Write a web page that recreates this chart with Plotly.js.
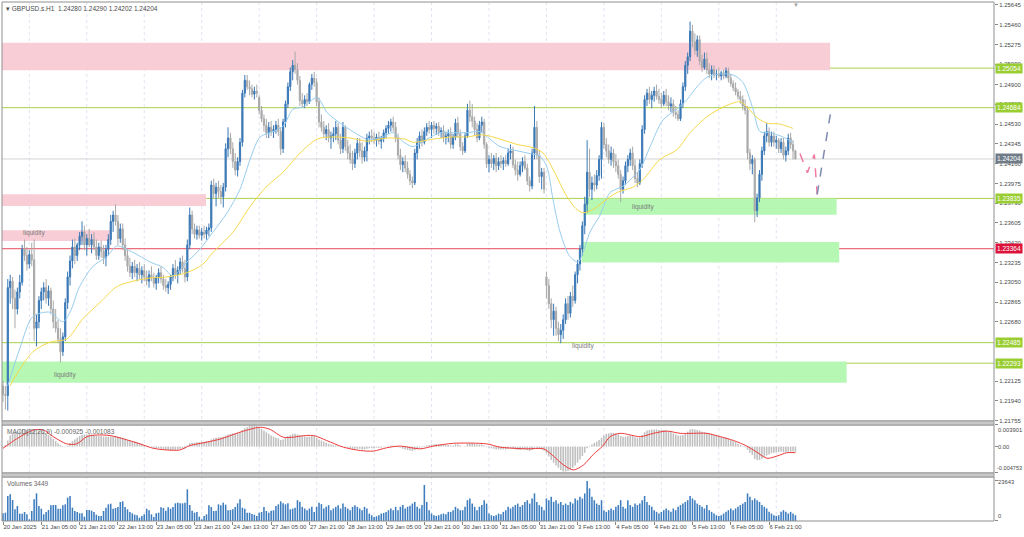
<!DOCTYPE html>
<html><head><meta charset="utf-8">
<script src="https://cdn.plot.ly/plotly-3.0.1.min.js"></script>
<style>html,body{margin:0;padding:0;background:#fff;}#chart{width:1024px;height:537px;}</style>
</head><body><div id="chart"></div>
<script>
// ---------- DATA ----------
const symbolTitle = "GBPUSD.s.H1";
const lastQuote = "1.24280 1.24290 1.24202 1.24204";
const macdTitle = "MACD(12,26,9) -0.000925 -0.001083";
const volumeTitle = "Volumes 3449";

const barOpen = [
1.2208,1.2200,1.2199,1.2300,1.2306,1.2290,1.2280,1.2296,1.2305,1.2336,
1.2330,1.2322,1.2331,1.2326,1.2262,1.2268,1.2288,1.2296,1.2300,1.2290,
1.2297,1.2280,1.2268,1.2262,1.2252,1.2240,1.2254,1.2286,1.2310,1.2325,
1.2338,1.2330,1.2340,1.2348,1.2352,1.2340,1.2346,1.2340,1.2345,1.2338,
1.2330,1.2338,1.2334,1.2328,1.2336,1.2345,1.2362,1.2368,1.2362,1.2346,
1.2355,1.2340,1.2330,1.2320,1.2314,1.2320,1.2314,1.2318,1.2312,1.2316,
1.2310,1.2306,1.2312,1.2309,1.2304,1.2310,1.2314,1.2308,1.2302,1.2300,
1.2303,1.2310,1.2318,1.2312,1.2316,1.2324,1.2318,1.2310,1.2340,1.2368,
1.2355,1.2350,1.2354,1.2349,1.2352,1.2350,1.2354,1.2356,1.2396,1.2388,
1.2394,1.2390,1.2385,1.2394,1.2430,1.2440,1.2430,1.2418,1.2410,1.2418,
1.2436,1.2482,1.2494,1.2488,1.2486,1.2481,1.2484,1.2478,1.2466,1.2458,
1.2452,1.2445,1.2450,1.2446,1.2448,1.2452,1.2446,1.2430,1.2455,1.2472,
1.2488,1.2502,1.2508,1.2504,1.2494,1.2475,1.2472,1.2476,1.2474,1.2490,
1.2496,1.2492,1.2474,1.2455,1.2450,1.2444,1.2448,1.2440,1.2442,1.2444,
1.2450,1.2438,1.2430,1.2450,1.2432,1.2426,1.2420,1.2416,1.2426,1.2435,
1.2428,1.2422,1.2428,1.2440,1.2442,1.2440,1.2438,1.2441,1.2437,1.2440,
1.2445,1.2449,1.2452,1.2455,1.2450,1.2440,1.2424,1.2415,1.2418,1.2412,
1.2406,1.2400,1.2398,1.2426,1.2436,1.2442,1.2436,1.2446,1.2450,1.2448,
1.2452,1.2449,1.2451,1.2445,1.2447,1.2440,1.2442,1.2444,1.2434,1.2441,
1.2454,1.2444,1.2432,1.2428,1.2442,1.2466,1.2460,1.2456,1.2448,1.2440,
1.2452,1.2455,1.2434,1.2416,1.2420,1.2416,1.2421,1.2414,1.2418,1.2416,
1.2419,1.2416,1.2426,1.2428,1.2415,1.2410,1.2406,1.2414,1.2418,1.2412,
1.2400,1.2395,1.2426,1.2450,1.2424,1.2404,1.2408,1.2310,1.2302,1.2285,
1.2270,1.2278,1.2262,1.2256,1.2260,1.2270,1.2285,1.2276,1.2292,1.2288,
1.2312,1.2322,1.2336,1.2358,1.2378,1.2408,1.2392,1.2398,1.2396,1.2405,
1.2420,1.2450,1.2434,1.2428,1.2420,1.2426,1.2418,1.2414,1.2406,1.2392,
1.2400,1.2414,1.2420,1.2426,1.2414,1.2402,1.2398,1.2416,1.2448,1.2476,
1.2482,1.2476,1.2480,1.2484,1.2479,1.2476,1.2472,1.2480,1.2474,1.2470,
1.2472,1.2464,1.2462,1.2458,1.2472,1.2488,1.2508,1.2516,1.2540,1.2530,
1.2522,1.2532,1.2512,1.2506,1.2514,1.2504,1.2500,1.2504,1.2499,1.2500,
1.2498,1.2501,1.2498,1.2503,1.2496,1.2491,1.2487,1.2483,1.2479,1.2476,
1.2470,1.2466,1.2426,1.2416,1.2420,1.2372,1.2384,1.2406,1.2428,1.2442,
1.2446,1.2436,1.2442,1.2436,1.2438,1.2430,1.2436,1.2424,1.2428,1.2440,1.2434,1.24280];

const barHigh = [
1.2213,1.2208,1.2308,1.2312,1.2310,1.2298,1.2300,1.2312,1.2340,1.2345,
1.2338,1.2335,1.2342,1.2345,1.2275,1.2292,1.2300,1.2305,1.2308,1.2302,
1.2300,1.2288,1.2280,1.2270,1.2262,1.2258,1.2290,1.2315,1.2330,1.2345,
1.2346,1.2342,1.2352,1.2362,1.2358,1.2350,1.2355,1.2350,1.2352,1.2345,
1.2342,1.2344,1.2340,1.2340,1.2350,1.2368,1.2372,1.2378,1.2368,1.2360,
1.2360,1.2346,1.2336,1.2328,1.2324,1.2326,1.2322,1.2324,1.2320,1.2322,
1.2316,1.2316,1.2320,1.2314,1.2312,1.2318,1.2320,1.2312,1.2308,1.2306,
1.2312,1.2322,1.2326,1.2320,1.2328,1.2330,1.2326,1.2345,1.2375,1.2372,
1.2360,1.2358,1.2358,1.2356,1.2358,1.2357,1.2360,1.2400,1.2402,1.2398,
1.2400,1.2396,1.2398,1.2435,1.2450,1.2445,1.2436,1.2426,1.2422,1.2440,
1.2485,1.2499,1.2499,1.2494,1.2490,1.2488,1.2490,1.2480,1.2470,1.2462,
1.2458,1.2455,1.2456,1.2452,1.2456,1.2458,1.2450,1.2458,1.2475,1.2492,
1.2506,1.2513,1.2521,1.2510,1.2498,1.2482,1.2480,1.2482,1.2492,1.2500,
1.2502,1.2496,1.2478,1.2462,1.2456,1.2452,1.2454,1.2446,1.2450,1.2456,
1.2454,1.2444,1.2455,1.2452,1.2438,1.2434,1.2428,1.2430,1.2440,1.2440,
1.2436,1.2432,1.2444,1.2446,1.2448,1.2446,1.2444,1.2446,1.2442,1.2448,
1.2452,1.2456,1.2458,1.2460,1.2455,1.2444,1.2430,1.2422,1.2424,1.2418,
1.2410,1.2404,1.2430,1.2440,1.2446,1.2448,1.2450,1.2454,1.2456,1.2455,
1.2456,1.2454,1.2455,1.2450,1.2452,1.2446,1.2448,1.2450,1.2444,1.2458,
1.2460,1.2448,1.2436,1.2445,1.2472,1.2475,1.2472,1.2460,1.2454,1.2456,
1.2460,1.2458,1.2436,1.2424,1.2426,1.2424,1.2426,1.2422,1.2424,1.2422,
1.2424,1.2430,1.2434,1.2432,1.2420,1.2418,1.2418,1.2422,1.2424,1.2416,
1.2404,1.2430,1.2470,1.2456,1.2428,1.2412,1.2412,1.2315,1.2308,1.2290,
1.2285,1.2282,1.2268,1.2266,1.2275,1.2290,1.2292,1.2296,1.2302,1.2315,
1.2326,1.2340,1.2362,1.2385,1.2438,1.2430,1.2404,1.2406,1.2410,1.2424,
1.2455,1.2454,1.2440,1.2434,1.2432,1.2430,1.2425,1.2420,1.2410,1.2404,
1.2418,1.2424,1.2430,1.2432,1.2420,1.2408,1.2420,1.2452,1.2480,1.2486,
1.2488,1.2484,1.2488,1.2490,1.2486,1.2482,1.2484,1.2486,1.2480,1.2478,
1.2476,1.2470,1.2466,1.2476,1.2492,1.2512,1.2520,1.2549,1.2546,1.2538,
1.2536,1.2536,1.2518,1.2520,1.2520,1.2510,1.2508,1.2508,1.2504,1.2506,
1.2503,1.2504,1.2506,1.2506,1.2500,1.2494,1.2492,1.2486,1.2484,1.2480,
1.2476,1.2470,1.2430,1.2424,1.2422,1.2388,1.2410,1.2432,1.2446,1.2454,
1.2450,1.2446,1.2446,1.2442,1.2440,1.2440,1.2440,1.2432,1.2444,1.2445,1.2438,1.24290];

const barLow = [
1.2193,1.2186,1.2185,1.2285,1.2280,1.2262,1.2275,1.2290,1.2302,1.2325,
1.2316,1.2318,1.2320,1.2250,1.2245,1.2262,1.2280,1.2288,1.2285,1.2283,
1.2275,1.2262,1.2258,1.2248,1.2230,1.2236,1.2250,1.2280,1.2302,1.2318,
1.2322,1.2325,1.2335,1.2340,1.2335,1.2330,1.2338,1.2332,1.2335,1.2326,
1.2326,1.2328,1.2322,1.2320,1.2330,1.2340,1.2352,1.2358,1.2340,1.2342,
1.2335,1.2325,1.2315,1.2310,1.2308,1.2310,1.2306,1.2308,1.2304,1.2306,
1.2302,1.2300,1.2306,1.2300,1.2298,1.2304,1.2304,1.2298,1.2296,1.2294,
1.2298,1.2306,1.2308,1.2304,1.2312,1.2314,1.2305,1.2306,1.2336,1.2350,
1.2346,1.2345,1.2346,1.2344,1.2346,1.2345,1.2348,1.2352,1.2384,1.2376,
1.2384,1.2378,1.2375,1.2390,1.2422,1.2425,1.2412,1.2405,1.2404,1.2414,
1.2432,1.2478,1.2485,1.2480,1.2478,1.2476,1.2478,1.2462,1.2455,1.2446,
1.2440,1.2440,1.2442,1.2440,1.2444,1.2442,1.2424,1.2426,1.2450,1.2468,
1.2484,1.2494,1.2500,1.2490,1.2470,1.2468,1.2468,1.2470,1.2472,1.2485,
1.2488,1.2470,1.2450,1.2446,1.2440,1.2438,1.2436,1.2430,1.2436,1.2438,
1.2434,1.2425,1.2426,1.2428,1.2420,1.2416,1.2410,1.2412,1.2420,1.2422,
1.2416,1.2418,1.2418,1.2434,1.2436,1.2434,1.2432,1.2434,1.2430,1.2436,
1.2440,1.2444,1.2446,1.2446,1.2436,1.2420,1.2410,1.2408,1.2408,1.2402,
1.2396,1.2393,1.2396,1.2420,1.2430,1.2432,1.2434,1.2442,1.2444,1.2440,
1.2444,1.2443,1.2442,1.2440,1.2436,1.2434,1.2436,1.2430,1.2430,1.2438,
1.2440,1.2428,1.2424,1.2426,1.2440,1.2455,1.2450,1.2442,1.2436,1.2438,
1.2445,1.2430,1.2412,1.2408,1.2412,1.2410,1.2408,1.2410,1.2412,1.2410,
1.2413,1.2414,1.2420,1.2412,1.2405,1.2400,1.2404,1.2408,1.2410,1.2396,
1.2390,1.2392,1.2420,1.2420,1.2398,1.2392,1.2388,1.2290,1.2280,1.2262,
1.2255,1.2255,1.2250,1.2248,1.2252,1.2266,1.2270,1.2272,1.2282,1.2285,
1.2304,1.2316,1.2330,1.2350,1.2370,1.2385,1.2382,1.2390,1.2392,1.2400,
1.2402,1.2430,1.2422,1.2416,1.2414,1.2412,1.2408,1.2402,1.2380,1.2388,
1.2396,1.2408,1.2414,1.2410,1.2398,1.2394,1.2396,1.2412,1.2444,1.2470,
1.2472,1.2468,1.2474,1.2476,1.2472,1.2468,1.2470,1.2470,1.2466,1.2464,
1.2460,1.2458,1.2456,1.2456,1.2468,1.2484,1.2500,1.2512,1.2525,1.2518,
1.2516,1.2508,1.2502,1.2504,1.2500,1.2496,1.2494,1.2496,1.2494,1.2496,
1.2494,1.2495,1.2496,1.2492,1.2488,1.2484,1.2480,1.2476,1.2472,1.2466,
1.2462,1.2420,1.2410,1.2406,1.2361,1.2366,1.2380,1.2400,1.2424,1.2436,
1.2432,1.2432,1.2432,1.2430,1.2426,1.2426,1.2420,1.2418,1.2424,1.2430,1.2420,1.24202];

const barClose = [
1.2200,1.2199,1.2300,1.2306,1.2290,1.2280,1.2296,1.2305,1.2336,1.2330,
1.2322,1.2331,1.2326,1.2262,1.2268,1.2288,1.2296,1.2300,1.2290,1.2297,
1.2280,1.2268,1.2262,1.2252,1.2240,1.2254,1.2286,1.2310,1.2325,1.2338,
1.2330,1.2340,1.2348,1.2352,1.2340,1.2346,1.2340,1.2345,1.2338,1.2330,
1.2338,1.2334,1.2328,1.2336,1.2345,1.2362,1.2368,1.2362,1.2346,1.2355,
1.2340,1.2330,1.2320,1.2314,1.2320,1.2314,1.2318,1.2312,1.2316,1.2310,
1.2306,1.2312,1.2309,1.2304,1.2310,1.2314,1.2308,1.2302,1.2300,1.2303,
1.2310,1.2318,1.2312,1.2316,1.2324,1.2318,1.2310,1.2340,1.2368,1.2355,
1.2350,1.2354,1.2349,1.2352,1.2350,1.2354,1.2356,1.2396,1.2388,1.2394,
1.2390,1.2385,1.2394,1.2430,1.2440,1.2430,1.2418,1.2410,1.2418,1.2436,
1.2482,1.2494,1.2488,1.2486,1.2481,1.2484,1.2482,1.2466,1.2458,1.2452,
1.2445,1.2450,1.2446,1.2448,1.2452,1.2446,1.2430,1.2455,1.2472,1.2488,
1.2502,1.2508,1.2504,1.2494,1.2475,1.2472,1.2476,1.2474,1.2490,1.2496,
1.2492,1.2474,1.2455,1.2450,1.2444,1.2448,1.2440,1.2442,1.2444,1.2450,
1.2438,1.2430,1.2450,1.2432,1.2426,1.2420,1.2416,1.2426,1.2435,1.2428,
1.2422,1.2428,1.2440,1.2442,1.2440,1.2438,1.2441,1.2437,1.2440,1.2445,
1.2449,1.2452,1.2455,1.2450,1.2440,1.2424,1.2415,1.2418,1.2412,1.2406,
1.2400,1.2398,1.2426,1.2436,1.2442,1.2436,1.2446,1.2450,1.2448,1.2452,
1.2449,1.2451,1.2445,1.2447,1.2440,1.2442,1.2444,1.2434,1.2441,1.2454,
1.2444,1.2432,1.2428,1.2442,1.2466,1.2460,1.2456,1.2448,1.2440,1.2452,
1.2455,1.2434,1.2416,1.2420,1.2416,1.2421,1.2414,1.2418,1.2416,1.2419,
1.2416,1.2426,1.2428,1.2415,1.2410,1.2406,1.2414,1.2418,1.2412,1.2400,
1.2395,1.2426,1.2450,1.2424,1.2404,1.2408,1.2392,1.2302,1.2285,1.2270,
1.2278,1.2262,1.2256,1.2260,1.2270,1.2285,1.2276,1.2292,1.2288,1.2312,
1.2322,1.2336,1.2358,1.2378,1.2408,1.2392,1.2398,1.2396,1.2405,1.2420,
1.2450,1.2434,1.2428,1.2420,1.2426,1.2418,1.2414,1.2406,1.2392,1.2400,
1.2414,1.2420,1.2426,1.2414,1.2402,1.2398,1.2416,1.2448,1.2476,1.2482,
1.2476,1.2480,1.2484,1.2479,1.2476,1.2472,1.2480,1.2474,1.2470,1.2472,
1.2464,1.2462,1.2458,1.2472,1.2488,1.2508,1.2516,1.2540,1.2530,1.2522,
1.2532,1.2512,1.2506,1.2514,1.2504,1.2500,1.2504,1.2499,1.2500,1.2498,
1.2501,1.2498,1.2503,1.2496,1.2491,1.2487,1.2483,1.2479,1.2476,1.2470,
1.2466,1.2426,1.2416,1.2420,1.2372,1.2384,1.2406,1.2428,1.2442,1.2446,
1.2436,1.2442,1.2436,1.2438,1.2430,1.2436,1.2424,1.2428,1.2440,1.2434,1.2428,1.24204];

const tickVolume = [
4531,4925,14775,15760,12411,6895,8865,4334,4334,5319,
3940,985,5910,12805,16351,8865,7289,3940,5319,6501,
9259,9456,9456,7289,7289,9259,9850,13790,14775,7880,
5910,5319,4531,4531,2561,6501,6501,6107,5319,3743,
2955,2955,5910,7880,9850,10244,7289,7683,8274,11229,
11623,8274,6895,5319,4531,3743,3349,1970,2955,3940,
7289,6304,3940,2364,4531,4925,8077,7683,6107,8077,
7289,8274,10441,10835,10441,10441,10835,18715,9456,6107,
4925,5319,2561,985,2955,3940,9259,8274,5910,6107,
9850,9259,10835,9653,6304,6501,6895,8274,10441,12805,
7880,7289,4925,4925,4137,3743,2955,4925,5319,8274,
5910,4925,6107,6304,8865,9850,11623,10441,9850,10441,
6895,7289,7880,12338,11343,8358,7363,6368,7363,8358,
5373,8358,10748,9950,7363,8358,9353,6368,7363,8358,
9353,7363,10348,8358,7363,6368,8358,9353,8358,7363,
6368,8358,7363,4378,3383,2388,2786,3383,4378,4776,
5373,6368,7363,6368,8358,6368,8400,9400,7400,8400,
9000,10300,11300,8400,7400,9400,21300,11300,6400,4400,
3400,3000,3400,4000,4400,4000,5400,5400,6400,8400,
7400,6400,6400,8400,12300,13300,10300,8400,6400,8400,
9400,12300,10300,4400,3400,3000,3400,4400,4000,5400,
6400,8400,7400,8400,9400,10300,8400,9400,11300,12300,
10300,13300,16300,11300,9400,8400,6400,13300,12300,14300,
11300,12300,10300,11300,9400,10300,9400,11300,10300,13300,
12300,14300,13300,16300,23643,19300,14300,12300,10300,9400,
12300,6400,5400,6400,7400,6400,8400,9400,12300,8400,
7400,12300,9400,8400,10300,9400,10300,12300,14800,11300,
9400,8400,6400,5400,4400,5400,6400,7400,6400,5400,
7400,6400,8400,9400,10300,11300,12300,14800,13300,12300,
10300,9400,8400,7400,9400,6400,5400,4400,3400,3000,
3400,4400,5400,6400,7400,6400,7400,8400,9400,10300,
11300,16300,14300,12300,13300,12300,11300,9400,8400,7400,
5400,4400,3400,3000,3400,5400,6400,5400,4400,5400,4400,3449];

const macdMain = [
-0.0001,0.0003,0.0011,0.0020,0.0024,0.0026,0.0027,0.0029,0.0030,0.0031,
0.0031,0.0032,0.0032,0.0031,0.0030,0.0029,0.0028,0.0026,0.0024,0.0021,
0.0018,0.0014,0.0010,0.0006,0.0003,0.0001,-0.0001,0.0002,0.0006,0.0010,
0.0013,0.0016,0.0019,0.0021,0.0022,0.0022,0.0022,0.0022,0.0021,0.0020,
0.0019,0.0019,0.0018,0.0018,0.0018,0.0018,0.0018,0.0019,0.0018,0.0017,
0.0016,0.0014,0.0012,0.0011,0.0010,0.0009,0.0008,0.0006,0.0005,0.0003,
0.0001,0.0000,-0.0001,-0.0002,-0.0003,-0.0003,-0.0004,-0.0005,-0.0006,-0.0006,
-0.0007,-0.0006,-0.0006,-0.0005,-0.0004,-0.0004,-0.0004,0.0002,0.0006,0.0007,
0.0007,0.0008,0.0008,0.0009,0.0009,0.0010,0.0010,0.0013,0.0015,0.0016,
0.0017,0.0017,0.0018,0.0020,0.0022,0.0023,0.0024,0.0024,0.0025,0.0026,
0.0030,0.0033,0.0035,0.0037,0.0038,0.0038,0.0037,0.0035,0.0032,0.0029,
0.0026,0.0023,0.0020,0.0018,0.0016,0.0015,0.0012,0.0013,0.0016,0.0019,
0.0021,0.0023,0.0023,0.0022,0.0020,0.0019,0.0018,0.0018,0.0018,0.0019,
0.0019,0.0016,0.0013,0.0011,0.0009,0.0007,0.0005,0.0004,0.0003,0.0002,
0.0001,0.0000,0.0000,-0.0001,-0.0002,-0.0003,-0.0004,-0.0004,-0.0004,-0.0004,
-0.0005,-0.0005,-0.0004,-0.0003,-0.0003,-0.0003,-0.0002,-0.0002,-0.0002,-0.0001,
0.0000,0.0001,0.0002,0.0002,0.0001,-0.0001,-0.0002,-0.0004,-0.0005,-0.0006,
-0.0007,-0.0008,-0.0006,-0.0004,-0.0002,-0.0001,0.0001,0.0002,0.0003,0.0004,
0.0004,0.0005,0.0004,0.0004,0.0003,0.0003,0.0003,0.0002,0.0002,0.0004,
0.0004,0.0002,0.0000,0.0001,0.0005,0.0006,0.0006,0.0005,0.0004,0.0004,
0.0004,0.0002,-0.0001,-0.0002,-0.0003,-0.0004,-0.0005,-0.0005,-0.0005,-0.0005,
-0.0005,-0.0004,-0.0003,-0.0004,-0.0005,-0.0006,-0.0006,-0.0005,-0.0005,-0.0006,
-0.0008,-0.0006,-0.0002,-0.0002,-0.0004,-0.0005,-0.0007,-0.0012,-0.0018,-0.0024,
-0.0029,-0.0034,-0.0038,-0.0042,-0.0045,-0.0045,-0.0044,-0.0041,-0.0038,-0.0034,
-0.0029,-0.0023,-0.0017,-0.0011,-0.0003,0.0001,0.0004,0.0007,0.0009,0.0012,
0.0016,0.0020,0.0023,0.0024,0.0025,0.0025,0.0024,0.0022,0.0019,0.0018,
0.0018,0.0019,0.0020,0.0019,0.0017,0.0016,0.0017,0.0021,0.0026,0.0029,
0.0030,0.0031,0.0031,0.0031,0.0030,0.0030,0.0030,0.0029,0.0027,0.0026,
0.0024,0.0022,0.0020,0.0020,0.0021,0.0024,0.0027,0.0031,0.0032,0.0031,
0.0030,0.0029,0.0027,0.0026,0.0025,0.0024,0.0023,0.0021,0.0020,0.0019,
0.0018,0.0017,0.0016,0.0014,0.0012,0.0010,0.0008,0.0005,0.0003,0.0001,
-0.0001,-0.0006,-0.0011,-0.0015,-0.0022,-0.0024,-0.0024,-0.0022,-0.0019,-0.0016,
-0.0014,-0.0012,-0.0011,-0.0010,-0.0010,-0.0009,-0.0010,-0.0010,-0.0009,-0.0009,-0.0009,-0.000925];

const macdSignalBars = [0,5.7,12.7,16.8,21,26.6,30.8,35,39.1,44.7,50.3,57.2,62.8,68.4,73.9,78.1,85.1,91,99,103,107.4,111.6,117,121.3,124.1,129.7,135.2,142.2,149.2,154.7,160.3,166,174.2,179.8,188.2,202,207.7,218.8,225.8,229.9,234.1,238.3,242.5,246.6,250.5,253.6,257.8,266.2,271.7,277.3,282.9,288.4,294,299.6,305.2,310.7,314.9,319.1,323.3,327.4,331];
const macdSignalVals = [-0.0003,0.0014,0.0030,0.0030,0.0018,0.0005,0.0005,0.0018,0.0021,0.0020,0.0014,0.0005,-0.0003,-0.0006,-0.0006,0.0002,0.0008,0.0014,0.0026,0.0031,0.0035,0.0031,0.0017,0.0017,0.0019,0.0020,0.0011,-0.0001,-0.0007,-0.0008,-0.0002,0.0001,-0.0004,0.0001,0.0006,0.0005,-0.0001,-0.0004,-0.0004,-0.0017,-0.0033,-0.0042,-0.0033,-0.0014,0.0001,0.0018,0.0024,0.0018,0.0024,0.0028,0.0024,0.0024,0.0024,0.0018,0.0011,0.0001,-0.0010,-0.0021,-0.0017,-0.0011,-0.001083];

const fastMaBars = [2,7,12.5,19.6,25,28,32,37.6,43.4,47.6,54.3,61.4,66.8,71,76.8,82.3,87.7,93.6,99,103.2,107.4,112.8,117,121.1,125.3,131.2,135.3,140.8,146.2,152,157.5,163,166.9,171.3,177.1,182.5,188,193.8,199.2,203.4,207.6,213,218.9,224.3,227.2,229.7,232.7,236.8,240.2,242.3,245.2,249.4,253.6,259,266.1,270.3,275.7,281.5,285.7,289.9,294.1,299.5,305,309.1,313.3,316.2,320.4,325.8,330];
const fastMaVals = [1.2208,1.2243,1.2273,1.2277,1.2268,1.2277,1.2301,1.2320,1.2329,1.2339,1.2333,1.2324,1.2319,1.2311,1.2324,1.2336,1.2352,1.2370,1.2392,1.2420,1.2441,1.2446,1.2451,1.2467,1.2469,1.2478,1.2464,1.2454,1.2446,1.2439,1.2440,1.2445,1.2437,1.2432,1.2439,1.2445,1.2445,1.2445,1.2446,1.2439,1.2432,1.2429,1.2426,1.2423,1.2413,1.2383,1.2352,1.2329,1.2324,1.2333,1.2352,1.2368,1.2389,1.2395,1.2411,1.2432,1.2457,1.2467,1.2476,1.2488,1.2497,1.2500,1.2499,1.2492,1.2467,1.2446,1.2445,1.2441,1.2436];

const slowMaBars = [2.9,7.1,12.5,19.6,26.7,33.4,40.5,47.6,54.3,61.4,68.5,76.8,83.5,87.7,96.1,103.2,110.3,117,124.1,131.2,137.8,145,152,160.4,167.9,171.3,179.6,188,193.8,200.5,207.6,214.7,221.4,225.6,229.7,235.6,239.8,242.3,246.4,250.6,256.4,263.1,267.3,274.4,281.5,287,294.1,300.8,307.9,310.8,315,319.1,324.6,330];
const slowMaVals = [1.2208,1.2224,1.2240,1.2249,1.2252,1.2271,1.2286,1.2301,1.2306,1.2309,1.2310,1.2314,1.2322,1.2333,1.2352,1.2376,1.2395,1.2408,1.2426,1.2439,1.2441,1.2440,1.2437,1.2440,1.2439,1.2436,1.2439,1.2441,1.2441,1.2443,1.2439,1.2434,1.2431,1.2426,1.2411,1.2385,1.2373,1.2370,1.2373,1.2380,1.2389,1.2394,1.2401,1.2420,1.2429,1.2445,1.2460,1.2469,1.2474,1.2469,1.2459,1.2454,1.2453,1.2449];

const timeLabelBars = [0,16,32,48,64,80,96,112,128,144,160,176,192,208,224,240,256,272,288,304,320];
const timeLabels = ["20 Jan 2025","21 Jan 05:00","21 Jan 21:00","22 Jan 13:00","23 Jan 05:00","23 Jan 21:00","24 Jan 13:00","27 Jan 05:00","27 Jan 21:00","28 Jan 13:00","29 Jan 05:00","29 Jan 21:00","30 Jan 13:00","31 Jan 05:00","31 Jan 21:00","3 Feb 13:00","4 Feb 05:00","4 Feb 21:00","5 Feb 13:00","6 Feb 05:00","6 Feb 21:00"];
const daySeparatorBars = [11,35,59,83,107,131,155,179,203,227,251,275,299,323];

const priceTicks = [1.25645,1.25460,1.25275,1.25090,1.24900,1.24715,1.24530,1.24345,1.24160,1.23975,1.23790,1.23605,1.23420,1.23235,1.23050,1.22865,1.22680,1.22125,1.21940,1.21755];
const greenLevels = [1.25054,1.24684,1.23835,1.22485,1.22293];
const redLevel = 1.23364;
const bidPrice = 1.24204;
const macdAxisLabels = [0.003901, 0.00, -0.004753];
const volumeAxisMax = 23643;

// zones: start bar (null = chart left edge), end bar, low, high, kind
const zoneStart = [null, null, null, null, 243.1, 241.7];
const zoneEnd   = [345.5, 84.8, 45.0, 352.4, 348.2, 349.3];
const zoneLow   = [1.25035, 1.23764, 1.23437, 1.22110, 1.23683, 1.23236];
const zoneHigh  = [1.25292, 1.23873, 1.23537, 1.22308, 1.23833, 1.23428];
const zoneKind  = ["supply","supply","supply","demand","demand","demand"];

const liquidityBars = [12.9, 26.1, 267.3, 242.3];
const liquidityPrices = [1.2351, 1.2218, 1.2375, 1.2245];

const projPinkBars = [332.9, 336.0, 338.9, 340.1];
const projPinkPrices = [1.24255, 1.24075, 1.24246, 1.23873];
const projBlueBars = [340.1, 345.9];
const projBluePrices = [1.23873, 1.24666];
const shiftMarkerBar = 331.2;

// ---------- LAYOUT CONSTANTS ----------
const FONT = "Liberation Sans, Arial, sans-serif";
const TXT = "#4a4a4a";
const xRange = [-0.42, 413.95];
const mainDomain = [0.1927, 1];
const macdDomain = [0.0925, 0.1850];
const volDomain = [0, 0.0848];
const mainRange = [1.21752, 1.25673];
const macdRange = [-0.004753, 0.003901];
const volRange = [0, 26007];

const barIndex = barClose.map((_, i) => i);

const traces = [];
traces.push({type:'scatter', mode:'lines', x:fastMaBars, y:fastMaVals, xaxis:'x', yaxis:'y',
  line:{color:'#97cdef', width:1, shape:'spline', smoothing:0.8}, hoverinfo:'skip'});
traces.push({type:'scatter', mode:'lines', x:slowMaBars, y:slowMaVals, xaxis:'x', yaxis:'y',
  line:{color:'#f6d94a', width:1, shape:'spline', smoothing:0.8}, hoverinfo:'skip'});
traces.push({type:'candlestick', x:barIndex, open:barOpen, high:barHigh, low:barLow, close:barClose,
  xaxis:'x', yaxis:'y', whiskerwidth:0,
  increasing:{line:{color:'#3a78b6', width:1}, fillcolor:'#3a78b6'},
  decreasing:{line:{color:'#a9a9a9', width:1}, fillcolor:'#a9a9a9'}, hoverinfo:'skip'});
traces.push({type:'scatter', mode:'lines', x:projPinkBars, y:projPinkPrices, xaxis:'x', yaxis:'y',
  line:{color:'#f27aa0', width:1.5, dash:'dash'}, hoverinfo:'skip'});
traces.push({type:'scatter', mode:'lines', x:projBlueBars, y:projBluePrices, xaxis:'x', yaxis:'y',
  line:{color:'#7d8bb0', width:1.5, dash:'dash'}, hoverinfo:'skip'});
traces.push({type:'bar', x:barIndex, y:macdMain, xaxis:'x', yaxis:'y2', marker:{color:'#c0c0c0', line:{width:0}}, hoverinfo:'skip'});
traces.push({type:'scatter', mode:'lines', x:macdSignalBars, y:macdSignalVals, xaxis:'x', yaxis:'y2',
  line:{color:'#ee3b3b', width:1, shape:'spline', smoothing:0.8}, hoverinfo:'skip'});
traces.push({type:'bar', x:barIndex, y:tickVolume, xaxis:'x', yaxis:'y3', marker:{color:'#3d7dbf', line:{width:0}}, hoverinfo:'skip'});

const shapes = [];
// day separators
daySeparatorBars.forEach(b => shapes.push({type:'line', xref:'x', yref:'paper', x0:b, x1:b, y0:0, y1:1,
  line:{color:'#e0e3f2', width:1, dash:'dot'}, layer:'below'}));
// zones
zoneKind.forEach((k, i) => shapes.push({type:'rect', xref:'x', yref:'y',
  x0: zoneStart[i] === null ? xRange[0] : zoneStart[i], x1: zoneEnd[i], y0: zoneLow[i], y1: zoneHigh[i],
  fillcolor: k === 'supply' ? '#f9cdd6' : '#b5f7b3', line:{width:0}, layer:'below'}));
// horizontal levels
greenLevels.forEach(p => shapes.push({type:'line', xref:'paper', yref:'y', x0:0, x1:1, y0:p, y1:p,
  line:{color:'#a8d24a', width:1}, layer:'below'}));
shapes.push({type:'line', xref:'paper', yref:'y', x0:0, x1:1, y0:redLevel, y1:redLevel, line:{color:'#e8485e', width:1}, layer:'below'});
shapes.push({type:'line', xref:'paper', yref:'y', x0:0, x1:1, y0:bidPrice, y1:bidPrice, line:{color:'#d4d4d4', width:1}, layer:'below'});
// panel frames
[mainDomain, macdDomain, volDomain].forEach(d => shapes.push({type:'rect', xref:'paper', yref:'paper',
  x0:0, x1:1, y0:d[0], y1:d[1], line:{color:'#8f8f8f', width:1}, fillcolor:'rgba(0,0,0,0)', layer:'above'}));
// separators between panels
[[macdDomain[1], mainDomain[0]], [volDomain[1], macdDomain[0]]].forEach(g => shapes.push({type:'rect', xref:'paper', yref:'paper',
  x0:0, x1:1, y0:g[0], y1:g[1], line:{color:'#9a9a9a', width:1}, fillcolor:'#c8c8c8', layer:'above'}));

const ann = [];
const small = (s, c) => ({family:FONT, size:s, color:c});
ann.push({xref:'paper', yref:'paper', x:0, y:1, xanchor:'left', yanchor:'top', xshift:2, yshift:-1, showarrow:false,
  text:'\u25BE ' + symbolTitle + '  ' + lastQuote, font:small(6.5, TXT)});
ann.push({xref:'paper', yref:'paper', x:0, y:macdDomain[1], xanchor:'left', yanchor:'top', xshift:3, yshift:-1, showarrow:false,
  text:macdTitle, font:small(6.5, '#666')});
ann.push({xref:'paper', yref:'paper', x:0, y:volDomain[1], xanchor:'left', yanchor:'top', xshift:3, yshift:-1, showarrow:false,
  text:volumeTitle, font:small(6.5, '#666')});
ann.push({xref:'x', yref:'paper', x:shiftMarkerBar, y:1, yanchor:'top', yshift:2, showarrow:false, text:'\u25BC', font:small(6, '#a0a0a0')});
liquidityBars.forEach((b, i) => ann.push({xref:'x', yref:'y', x:b, y:liquidityPrices[i], showarrow:false,
  text:'liquidity', font:small(6.5, '#7a7a7a')}));
// macd / volume axis labels
ann.push({xref:'paper', yref:'y2', x:1, y:macdAxisLabels[0], xanchor:'left', yanchor:'top', xshift:2, showarrow:false, text:'0.003901', font:small(5.8, TXT)});
ann.push({xref:'paper', yref:'y2', x:1, y:macdAxisLabels[1], xanchor:'left', yanchor:'middle', xshift:2, showarrow:false, text:'0.00', font:small(5.8, TXT)});
ann.push({xref:'paper', yref:'y2', x:1, y:macdAxisLabels[2], xanchor:'left', yanchor:'bottom', xshift:1, showarrow:false, text:'-0.004753', font:small(5.6, TXT)});
ann.push({xref:'paper', yref:'y3', x:1, y:volRange[1], xanchor:'left', yanchor:'top', xshift:2, showarrow:false, text:String(volumeAxisMax), font:small(5.8, TXT)});
ann.push({xref:'paper', yref:'y3', x:1, y:0, xanchor:'left', yanchor:'bottom', xshift:2, showarrow:false, text:'0', font:small(5.8, TXT)});
// price level labels
const lvlLabel = (p, bg) => ({xref:'paper', yref:'y', x:1, y:p, xanchor:'left', yanchor:'middle', xshift:1, showarrow:false,
  text:p.toFixed(5), bgcolor:bg, borderpad:1, font:small(6.5, '#ffffff')});
greenLevels.forEach(p => ann.push(lvlLabel(p, '#9acd32')));
ann.push(lvlLabel(redLevel, '#dc143c'));
ann.push(lvlLabel(bidPrice, '#6f7c88'));

const layout = {
  width:1024, height:537, margin:{l:2, r:30, t:2, b:16},
  paper_bgcolor:'#ffffff', plot_bgcolor:'#ffffff', showlegend:false,
  bargap:0.35,
  font:{family:FONT, size:6, color:TXT},
  xaxis:{anchor:'y3', range:xRange, showgrid:false, zeroline:false, showline:false,
    tickmode:'array', tickvals:timeLabelBars, ticktext:timeLabels, ticks:'outside', ticklen:3, tickcolor:'#888',
    tickangle:0, automargin:false,
    ticklabelposition:'outside right', tickfont:{family:FONT, size:6, color:TXT}, rangeslider:{visible:false}},
  yaxis:{domain:mainDomain, anchor:'x', side:'right', range:mainRange, showgrid:false, zeroline:false, automargin:false,
    tickmode:'array', tickvals:priceTicks, ticktext:priceTicks.map(v => v.toFixed(5)), ticks:'outside', ticklen:3, tickcolor:'#888',
    tickfont:{family:FONT, size:6, color:TXT}},
  yaxis2:{domain:macdDomain, anchor:'x', side:'right', range:macdRange, showgrid:false, zeroline:false,
    tickmode:'array', tickvals:macdAxisLabels, showticklabels:false, ticks:'outside', ticklen:3, tickcolor:'#888'},
  yaxis3:{domain:volDomain, anchor:'x', side:'right', range:volRange, showgrid:false, zeroline:false,
    tickmode:'array', tickvals:[0, volumeAxisMax], showticklabels:false, ticks:'outside', ticklen:3, tickcolor:'#888'},
  shapes:shapes, annotations:ann
};

Plotly.newPlot('chart', traces, layout, {staticPlot:true, displayModeBar:false});
</script></body></html>
